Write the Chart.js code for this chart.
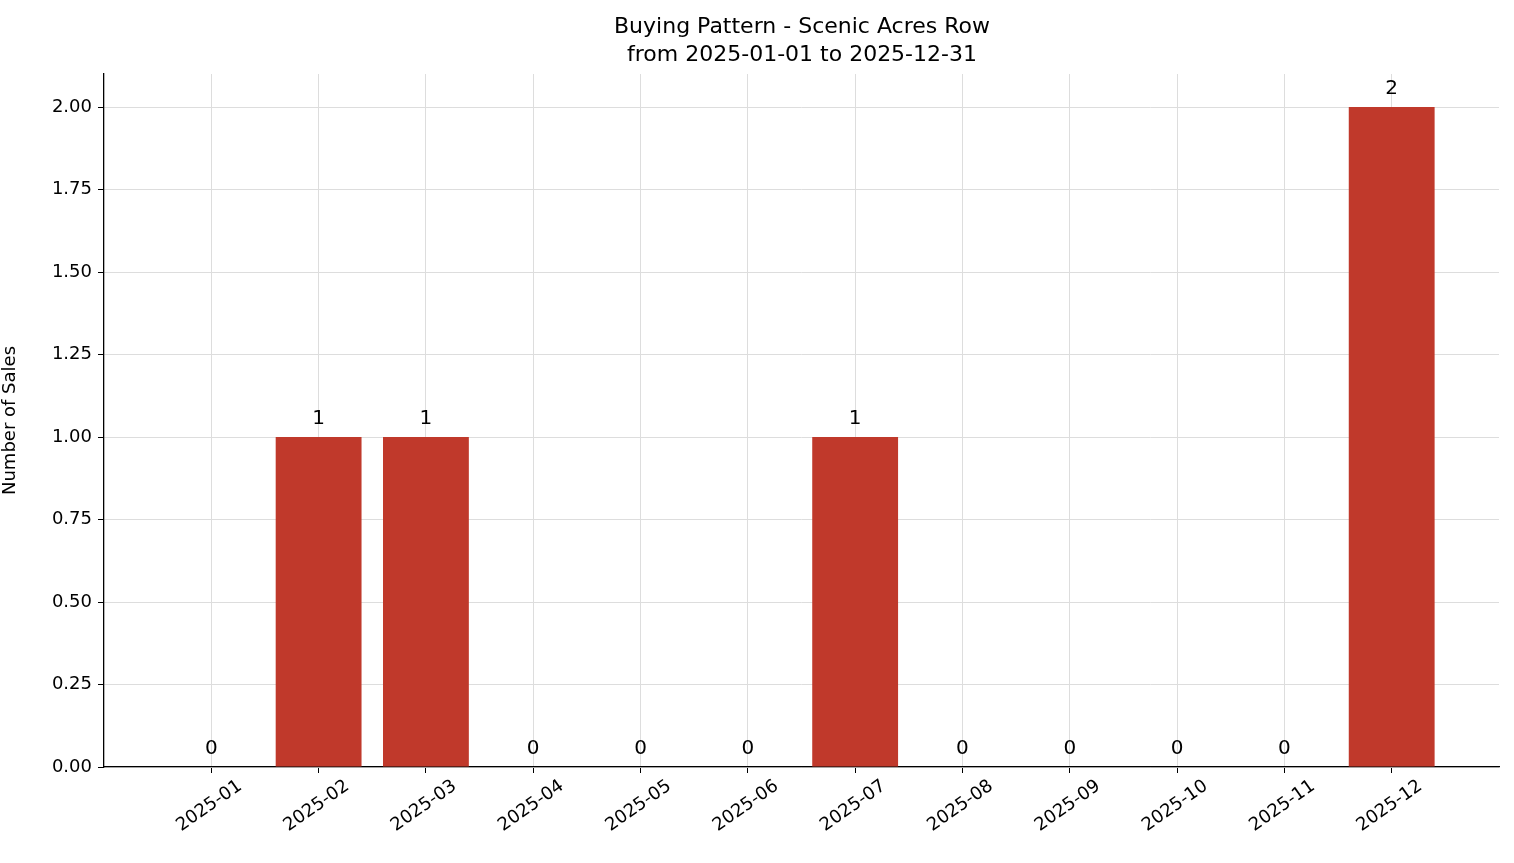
<!DOCTYPE html>
<html><head><meta charset="utf-8">
<script src="https://cdn.jsdelivr.net/npm/chart.js@4"></script>
<style>html,body{margin:0;padding:0;background:#fff}#w{width:1514px;height:863px}</style>
</head><body><div id="w"><canvas id="c"></canvas></div>
<script>
const categories = ["2025-01","2025-02","2025-03","2025-04","2025-05","2025-06","2025-07","2025-08","2025-09","2025-10","2025-11","2025-12"];
const sales = [0,1,1,0,0,0,1,0,0,0,0,2];
const titleLines = ["Buying Pattern - Scenic Acres Row","from 2025-01-01 to 2025-12-31"];
const F = "'DejaVu Sans', sans-serif";
const overlay = {
  id:'overlay',
  afterDatasetsDraw(chart){
    const ctx=chart.ctx; ctx.save();
    ctx.fillStyle='#000'; ctx.textAlign='center';
    ctx.font='22px '+F; ctx.textBaseline='alphabetic';
    ctx.fillText(titleLines[0], 802, 33);
    ctx.fillText(titleLines[1], 802, 61);
    ctx.font='20px '+F; ctx.textBaseline='bottom';
    chart.getDatasetMeta(0).data.forEach((b,i)=>{ ctx.fillText(String(sales[i]), b.x, b.y-8); });
    const xs=chart.scales.x;
    ctx.font='18px '+F; ctx.textBaseline='middle';
    categories.forEach((c,i)=>{
      const px=xs.getPixelForValue(i);
      ctx.save(); ctx.translate(px-2,806); ctx.rotate(-35*Math.PI/180);
      ctx.fillText(c,0,0); ctx.restore();
    });
    ctx.restore();
  }
};
new Chart(document.getElementById('c'),{
  type:'bar',
  data:{datasets:[{data:categories.map((c,i)=>({x:i,y:sales[i]})),backgroundColor:'#c0392b',barPercentage:0.8,categoryPercentage:1}]},
  options:{responsive:true,maintainAspectRatio:false,animation:false,
    layout:{padding:{top:74,right:15,left:0,bottom:0}},
    plugins:{legend:{display:false},title:{display:false},tooltip:{enabled:false}},
    scales:{
      x:{type:'linear',min:-1,max:12,offset:false,
        afterBuildTicks(s){s.ticks=categories.map((c,i)=>({value:i}));},
        afterFit(s){s.height=96;},
        ticks:{autoSkip:false,display:true,color:'rgba(0,0,0,0)',font:{size:1},callback:v=>''},
        grid:{offset:false,color:'#dddddd',borderDash:[4,3],drawTicks:true,tickLength:6,tickColor:'#000'},
        border:{display:true,color:'#000',width:1.3}
      },
      y:{min:0,max:2.1,
        afterBuildTicks(s){s.ticks=[0,0.25,0.5,0.75,1,1.25,1.5,1.75,2].map(v=>({value:v}));},
        afterFit(s){s.width=104;},
        ticks:{color:'#000',font:{size:18,family:F},padding:6,callback:v=>v.toFixed(2)},
        title:{display:true,text:'Number of Sales',color:'#000',font:{size:18,family:F},padding:{top:0,bottom:4}},
        grid:{color:'#dddddd',borderDash:[4,3],tickLength:6,tickColor:'#000'},
        border:{display:true,color:'#000',width:1.3}
      }
    }
  },
  plugins:[overlay]
});
</script></body></html>
